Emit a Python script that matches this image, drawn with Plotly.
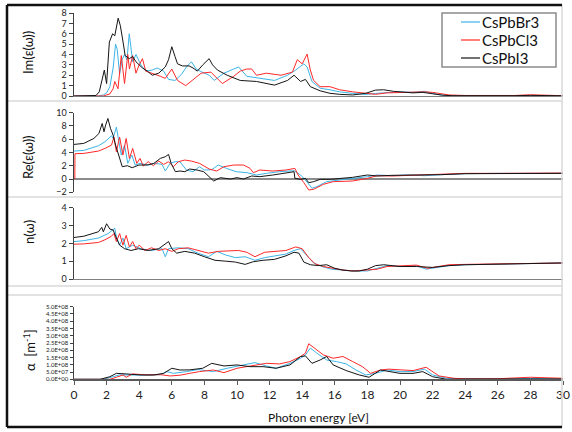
import plotly.graph_objects as go
from plotly.subplots import make_subplots

W, H = 572, 432

series_names = ["CsPbBr3", "CsPbCl3", "CsPbI3"]
series_colors = ["#3cb4e6", "#ff2828", "#141414"]

# ---------- Im(eps) ----------
im_i3_e = [0, 1.2, 1.35, 1.55, 1.7, 1.86, 2.0, 2.17, 2.37, 2.5, 2.71, 2.84, 2.98, 3.14, 3.39, 3.6, 3.8, 4.0, 4.2, 4.5, 4.8, 5.2, 5.6, 5.8, 6.0, 6.2, 6.35, 6.65, 7.06, 7.3, 7.57, 7.9, 8.29, 8.5, 8.8, 9.4, 10.2, 11.2, 12.3, 13.1, 13.5, 13.9, 14.2, 14.5, 15.1, 15.7, 16.3, 17.1, 17.9, 18.5, 19.0, 19.6, 20.2, 20.8, 21.4, 22.0, 22.6, 23.2, 24, 25, 26, 27, 28, 29, 30]
im_i3_v = [0, 0, 0.05, 0.4, 1.3, 2.5, 1.2, 5.2, 6.0, 5.8, 7.5, 6.8, 5.5, 3.9, 3.6, 3.8, 3.3, 3.0, 2.7, 2.4, 2.0, 2.2, 2.8, 3.5, 4.75, 3.8, 3.1, 2.9, 2.9, 2.7, 2.4, 3.0, 3.6, 3.0, 2.5, 2.0, 1.5, 1.4, 1.05, 1.5, 2.0, 1.4, 1.6, 0.9, 0.5, 0.26, 0.16, 0.1, 0.26, 0.57, 0.6, 0.45, 0.35, 0.3, 0.35, 0.2, 0.08, 0.03, 0.02, 0.02, 0.02, 0.03, 0.06, 0.03, 0.02]
im_br_e = [0, 1.5, 1.8, 2.0, 2.2, 2.4, 2.55, 2.65, 2.8, 2.95, 3.1, 3.25, 3.39, 3.6, 3.8, 4.1, 4.4, 4.8, 5.1, 5.5, 5.8, 6.2, 6.6, 6.9, 7.2, 7.5, 7.8, 8.3, 8.6, 9.2, 9.8, 10.1, 10.6, 11.4, 12.3, 13.1, 13.6, 14.1, 14.3, 14.6, 15.1, 15.7, 16.3, 17.1, 17.9, 18.5, 19.2, 20.0, 20.8, 21.5, 22.0, 22.6, 23.5, 25, 27, 28, 29, 30]
im_br_v = [0, 0, 0.1, 0.3, 0.9, 2.7, 5.0, 4.5, 2.1, 3.5, 4.0, 3.5, 6.0, 3.3, 4.0, 3.0, 2.4, 2.5, 2.7, 2.4, 1.6, 1.5, 2.1, 2.8, 3.3, 2.6, 2.35, 2.0, 1.5, 2.2, 2.6, 2.8, 1.9, 1.7, 1.5, 2.0, 2.5, 3.1, 2.8, 1.4, 0.75, 0.6, 0.4, 0.25, 0.15, 0.25, 0.35, 0.4, 0.35, 0.45, 0.25, 0.08, 0.02, 0.02, 0.02, 0.03, 0.02, 0.02]
im_cl_e = [0, 1.8, 2.2, 2.4, 2.5, 2.7, 2.9, 3.1, 3.3, 3.4, 3.6, 3.8, 4.0, 4.2, 4.4, 4.8, 5.3, 5.6, 6.0, 6.35, 6.85, 7.25, 7.8, 8.4, 9.1, 9.8, 10.2, 10.6, 10.9, 11.2, 11.8, 12.7, 13.4, 13.7, 14.0, 14.3, 14.5, 14.7, 15.1, 15.7, 16.3, 17.1, 17.9, 18.5, 19.2, 20.0, 20.8, 21.5, 22.0, 22.5, 23.0, 24, 25, 26, 27, 28, 29, 30]
im_cl_v = [0, 0, 0.2, 0.7, 1.4, 0.7, 3.9, 1.2, 4.0, 2.6, 3.9, 2.2, 3.0, 3.6, 2.4, 2.2, 1.9, 1.7, 2.6, 1.5, 1.0, 1.5, 2.2, 2.3, 1.2, 1.9, 2.4, 2.6, 2.6, 2.0, 2.2, 2.0, 2.3, 3.5, 3.1, 4.04, 2.5, 1.5, 0.9, 0.9, 0.6, 0.4, 0.25, 0.16, 0.3, 0.35, 0.4, 0.4, 0.35, 0.2, 0.1, 0.05, 0.03, 0.03, 0.05, 0.12, 0.05, 0.03]

# ---------- Re(eps) ----------
re_i3_e = [0, 0.6, 1.22, 1.53, 1.73, 1.84, 1.94, 2.08, 2.24, 2.4, 2.55, 2.76, 2.96, 3.27, 3.57, 3.98, 4.49, 4.9, 5.3, 5.6, 5.8, 5.96, 6.22, 6.5, 6.8, 7.1, 7.55, 7.96, 8.27, 8.57, 8.98, 9.6, 10.0, 10.4, 10.9, 11.4, 12.2, 13.0, 13.5, 13.55, 13.9, 14.2, 14.4, 14.7, 15.1, 15.7, 16.3, 17.1, 18.0, 18.6, 19.5, 20.5, 21.5, 22.5, 24, 26, 28, 30]
re_i3_v = [5.2, 5.35, 6.1, 6.85, 8.35, 7.1, 8.1, 9.1, 7.6, 6.6, 5.1, 3.6, 1.85, 2.0, 1.7, 2.1, 2.1, 2.35, 3.1, 3.35, 3.7, 2.35, 1.1, 1.2, 1.1, 1.5, 1.35, 1.1, 0.35, -0.3, 0.2, 0.0, 0.2, 0.0, 0.45, 0.35, 0.6, 0.85, 1.1, 0.1, -0.05, 0.1, -0.55, -0.4, -0.05, -0.05, 0.05, 0.25, 0.6, 0.45, 0.55, 0.6, 0.55, 0.65, 0.8, 0.85, 0.85, 0.85]
re_br_e = [0, 0.6, 1.5, 1.9, 2.3, 2.4, 2.6, 2.76, 2.9, 3.1, 3.3, 3.55, 3.75, 4.05, 4.55, 4.95, 5.4, 5.6, 5.9, 6.2, 6.5, 6.9, 7.3, 7.7, 8.0, 8.45, 8.85, 9.35, 9.95, 10.6, 11.2, 11.8, 12.6, 13.5, 13.9, 14.2, 14.6, 14.9, 15.5, 16.3, 17.1, 18.0, 18.6, 19.5, 20.5, 21.5, 22.5, 24, 26, 28, 30]
re_br_v = [4.2, 4.3, 5.0, 5.6, 6.5, 6.1, 7.8, 5.6, 3.6, 5.1, 2.35, 3.6, 2.1, 2.35, 2.1, 2.35, 2.2, 1.2, 2.35, 2.6, 2.6, 1.35, 1.1, 1.85, 1.35, 1.4, 2.1, 1.6, 1.1, 0.95, 0.6, 0.85, 1.1, 1.25, 0.6, -0.15, -1.4, -1.15, -0.4, -0.15, 0.05, 0.35, 0.6, 0.5, 0.6, 0.5, 0.65, 0.8, 0.85, 0.85, 0.85]
re_cl_e = [0.05, 0.06, 0.6, 1.5, 1.9, 2.3, 2.45, 2.6, 2.8, 3.0, 3.2, 3.4, 3.6, 3.85, 4.05, 4.25, 4.55, 4.87, 5.2, 5.5, 5.8, 6.1, 6.4, 6.8, 7.2, 7.7, 8.3, 8.75, 9.2, 9.8, 10.4, 10.8, 11.0, 11.4, 12.2, 13.0, 13.55, 13.75, 14.1, 14.4, 14.7, 15.3, 15.9, 16.5, 17.1, 18.0, 18.6, 19.5, 20.5, 21.5, 22.5, 24, 26, 28, 30]
re_cl_v = [0, 3.8, 3.85, 4.2, 4.6, 5.1, 6.3, 4.1, 6.3, 3.6, 6.1, 3.1, 4.6, 2.35, 3.1, 1.95, 2.6, 2.0, 2.7, 2.2, 2.6, 1.85, 2.6, 2.85, 2.7, 2.35, 1.5, 1.2, 1.85, 2.1, 2.1, 1.6, 0.95, 1.35, 1.2, 1.35, 1.6, 0.6, -0.55, -1.65, -1.55, -0.8, -0.4, -0.4, -0.3, 0.1, 0.5, 0.45, 0.55, 0.6, 0.7, 0.85, 0.85, 0.9, 0.9]

# ---------- n(omega) ----------
n_i3_e = [0, 0.6, 1.5, 1.7, 1.8, 2.0, 2.2, 2.4, 2.6, 2.8, 3.1, 3.5, 3.95, 4.55, 5.2, 5.6, 5.8, 6.0, 6.3, 6.8, 7.4, 8.0, 8.65, 9.3, 9.9, 10.5, 11.0, 11.6, 12.3, 13.0, 13.5, 13.8, 14.1, 14.5, 15.0, 15.5, 16.0, 16.5, 17.0, 17.5, 18.0, 18.5, 19.0, 20.0, 21.0, 22.0, 23.0, 24.0, 26, 28, 30]
n_i3_v = [2.33, 2.4, 2.65, 2.9, 2.65, 3.1, 2.8, 2.75, 2.3, 1.9, 1.7, 1.6, 1.7, 1.6, 1.7, 2.0, 2.1, 1.7, 1.45, 1.55, 1.45, 1.25, 1.05, 1.0, 0.95, 0.82, 0.97, 1.05, 1.1, 1.3, 1.5, 1.45, 0.95, 0.8, 0.75, 0.8, 0.6, 0.5, 0.45, 0.45, 0.55, 0.75, 0.8, 0.7, 0.7, 0.65, 0.75, 0.8, 0.82, 0.85, 0.9]
n_br_e = [0, 0.6, 1.5, 2.1, 2.5, 2.6, 2.8, 3.0, 3.2, 3.6, 4.1, 4.7, 5.4, 5.6, 5.8, 6.4, 7.0, 7.6, 8.25, 8.75, 9.3, 9.9, 10.5, 11.1, 11.7, 12.4, 13.0, 13.5, 13.9, 14.3, 14.7, 15.2, 15.8, 16.5, 17.2, 18.0, 18.6, 19.2, 20.0, 21.0, 21.6, 22.2, 23.0, 24.0, 26, 28, 30]
n_br_v = [2.1, 2.15, 2.3, 2.55, 2.85, 2.35, 1.9, 2.3, 1.7, 1.9, 1.7, 1.6, 1.7, 1.25, 1.7, 1.75, 1.7, 1.45, 1.25, 1.55, 1.35, 1.2, 1.25, 1.05, 1.2, 1.3, 1.4, 1.6, 1.7, 1.3, 0.9, 0.7, 0.55, 0.5, 0.45, 0.45, 0.6, 0.75, 0.7, 0.75, 0.55, 0.65, 0.75, 0.8, 0.82, 0.85, 0.9]
n_cl_e = [0, 0.6, 1.5, 1.9, 2.3, 2.45, 2.6, 2.8, 3.0, 3.2, 3.4, 3.6, 3.8, 4.0, 4.35, 4.75, 5.2, 5.6, 6.0, 6.4, 7.0, 7.6, 8.25, 8.85, 9.5, 10.1, 10.6, 11.1, 11.7, 12.4, 13.0, 13.6, 14.0, 14.4, 14.8, 15.3, 15.9, 16.5, 17.2, 18.0, 18.6, 19.2, 20.0, 21.0, 21.7, 22.3, 23.0, 24.0, 26, 28, 30]
n_cl_v = [1.95, 1.97, 2.05, 2.2, 2.4, 2.55, 2.1, 2.55, 1.9, 2.45, 1.8, 2.1, 1.7, 1.9, 1.6, 1.75, 1.6, 1.7, 1.55, 1.7, 1.75, 1.6, 1.45, 1.55, 1.57, 1.6, 1.5, 1.25, 1.5, 1.55, 1.6, 1.8, 1.7, 1.2, 0.85, 0.7, 0.6, 0.5, 0.45, 0.5, 0.55, 0.7, 0.75, 0.78, 0.6, 0.7, 0.8, 0.82, 0.85, 0.88, 0.9]

# ---------- alpha (units of 1e8 m^-1) ----------
a_i3_e = [0, 1.6, 2.2, 2.6, 3.2, 4.05, 4.9, 5.5, 6.0, 6.5, 7.1, 7.9, 8.45, 9.2, 10.0, 10.8, 11.6, 12.4, 13.25, 13.9, 14.2, 14.6, 15.1, 15.5, 15.9, 16.7, 17.5, 18.1, 18.8, 19.4, 20.0, 20.8, 21.4, 22.0, 22.85, 24, 26, 28, 30]
a_i3_v = [0, 0, 0.18, 0.41, 0.37, 0.3, 0.3, 0.41, 0.76, 0.64, 0.65, 0.76, 1.1, 0.92, 0.99, 0.87, 0.87, 0.76, 0.99, 1.57, 1.61, 1.1, 1.33, 1.57, 0.99, 0.6, 0.3, 0.14, 0.64, 0.53, 0.41, 0.41, 0.53, 0.18, 0.0, 0.02, 0.02, 0.05, 0.02]
a_br_e = [0, 1.8, 2.4, 2.8, 3.4, 4.5, 5.3, 5.7, 6.1, 6.5, 6.9, 7.6, 8.55, 9.4, 10.2, 11.1, 11.8, 12.4, 13.25, 13.9, 14.2, 14.5, 14.9, 15.5, 16.1, 16.7, 17.3, 17.9, 18.5, 19.2, 20.0, 20.8, 21.5, 22.0, 22.85, 24, 26, 28, 30]
a_br_v = [0, 0, 0.18, 0.3, 0.3, 0.28, 0.32, 0.53, 0.41, 0.46, 0.53, 0.67, 0.53, 0.76, 0.92, 1.15, 0.92, 0.76, 1.1, 1.45, 1.68, 2.15, 1.8, 1.33, 1.22, 1.06, 0.64, 0.3, 0.41, 0.64, 0.53, 0.53, 0.7, 0.3, 0.07, 0.03, 0.03, 0.06, 0.03]
a_cl_e = [0, 2.2, 2.6, 3.0, 3.2, 3.6, 4.5, 5.3, 5.9, 6.5, 7.1, 7.7, 8.55, 9.2, 10.0, 11.0, 11.8, 12.6, 13.25, 13.9, 14.2, 14.4, 14.7, 15.3, 15.9, 16.5, 17.1, 17.7, 18.2, 18.8, 19.3, 20.0, 20.8, 21.6, 22.0, 22.4, 23.3, 24, 26, 28, 30]
a_cl_v = [0, 0, 0.14, 0.3, 0.14, 0.37, 0.3, 0.32, 0.23, 0.28, 0.41, 0.53, 0.64, 0.46, 0.76, 0.92, 1.1, 1.06, 1.22, 1.57, 1.8, 2.45, 2.2, 1.68, 1.45, 1.57, 1.22, 0.87, 0.41, 0.64, 0.7, 0.64, 0.6, 0.83, 0.53, 0.23, 0.07, 0.03, 0.04, 0.14, 0.07]
alpha_unit = 1e8

alpha_ticks = [i * 0.5e8 for i in range(11)]
alpha_ticktext = [f"{v:.1E}" for v in alpha_ticks]
x_ticks = list(range(0, 31, 2))

panels = [
    [(im_br_e, im_br_v), (im_cl_e, im_cl_v), (im_i3_e, im_i3_v)],
    [(re_br_e, re_br_v), (re_cl_e, re_cl_v), (re_i3_e, re_i3_v)],
    [(n_br_e, n_br_v), (n_cl_e, n_cl_v), (n_i3_e, n_i3_v)],
    [(a_br_e, a_br_v), (a_cl_e, a_cl_v), (a_i3_e, a_i3_v)],
]

fig = make_subplots(rows=4, cols=1)

for r, panel in enumerate(panels, start=1):
    for k, (xs, ys) in enumerate(panel):
        if r == 4:
            ys = [v * alpha_unit for v in ys]
        fig.add_trace(go.Scatter(
            x=xs, y=ys, mode="lines", name=series_names[k],
            line=dict(color=series_colors[k], width=1),
            showlegend=False),
            row=r, col=1)

def px_x(p):
    return p / W

def px_y(p):
    return 1 - p / H

FONT = "Lato, Carlito, 'Open Sans', sans-serif"
axis_col = "#404040"
xdom = [px_x(74), px_x(563)]

ydoms = [
    [px_y(96), px_y(13)],
    [px_y(192.3), px_y(112.5)],
    [px_y(279), px_y(207.7)],
    [px_y(379.3), px_y(306.7)],
]
yranges = [[0, 8], [-2, 10], [0, 4], [0, 5e8]]
ydticks = [1, 2, 1, None]

for i in range(4):
    xa = "xaxis" if i == 0 else f"xaxis{i+1}"
    ya = "yaxis" if i == 0 else f"yaxis{i+1}"
    xcfg = dict(domain=xdom, range=[0, 30], showgrid=False, zeroline=False,
                automargin=False, fixedrange=True)
    if i == 3:
        xcfg.update(showline=True, linecolor="#595959", linewidth=1.2,
                    ticks="outside", ticklen=4, tickcolor="#595959",
                    tickvals=x_ticks, showticklabels=True,
                    tickfont=dict(family=FONT, size=12, color="#222"))
    elif i == 1:
        xcfg.update(showline=False, ticks="", showticklabels=False)
    else:
        xcfg.update(showline=True, linecolor="#7f7f7f", linewidth=1.2,
                    ticks="", showticklabels=False)
    ycfg = dict(domain=ydoms[i], range=yranges[i], showgrid=False,
                showline=True, linecolor=axis_col, linewidth=1.5,
                ticks="outside", ticklen=4, tickcolor=axis_col,
                automargin=False, fixedrange=True, zeroline=False,
                tickfont=dict(family=FONT, size=9, color="#222"))
    if ydticks[i] is not None:
        ycfg.update(dtick=ydticks[i], tick0=0)
    if i == 1:
        ycfg.update(zeroline=True, zerolinecolor="#8c8c8c", zerolinewidth=1.5)
    if i == 3:
        ycfg.update(tickvals=alpha_ticks, ticktext=alpha_ticktext, ticklen=3,
                    tickfont=dict(family=FONT, size=6, color="#222"))
    fig.layout[xa].update(xcfg)
    fig.layout[ya].update(ycfg)

shapes = []
sep_col = "#d9d9d9"
for yy in [101, 197, 286, 295]:
    shapes.append(dict(type="line", xref="paper", yref="paper",
                       x0=px_x(7), x1=px_x(562), y0=px_y(yy), y1=px_y(yy),
                       line=dict(color=sep_col, width=1.5)))
shapes.append(dict(type="line", xref="paper", yref="paper",
                   x0=px_x(562), x1=px_x(562), y0=px_y(5), y1=px_y(427),
                   line=dict(color=sep_col, width=1.5)))
for (x0, y0, x1, y1) in [(7, 5, 562, 5), (7, 427, 562, 427), (7, 5, 7, 427)]:
    shapes.append(dict(type="line", xref="paper", yref="paper",
                       x0=px_x(x0), x1=px_x(x1), y0=px_y(y0), y1=px_y(y1),
                       line=dict(color="#111", width=2.5)))

annotations = []
titles = [("Im(ε(ω))", 28, 53), ("Re(ε(ω))", 28, 157), ("n(ω)", 29, 232),
          ("α  [m<sup>-1</sup>]", 29, 350)]
for txt, xx, yy in titles:
    annotations.append(dict(text=txt, xref="paper", yref="paper",
                            x=px_x(xx), y=px_y(yy), showarrow=False,
                            textangle=-90, xanchor="center", yanchor="middle",
                            font=dict(family=FONT, size=13, color="#111")))
annotations.append(dict(text="Photon energy [eV]", xref="paper", yref="paper",
                        x=px_x(318), y=px_y(417), showarrow=False,
                        xanchor="center", yanchor="middle",
                        font=dict(family=FONT, size=12, color="#111")))

# legend box (drawn as shapes + text)
shapes.append(dict(type="rect", xref="paper", yref="paper",
                   x0=px_x(442), x1=px_x(556), y0=px_y(67), y1=px_y(13),
                   line=dict(color="#8c8c8c", width=1.5), fillcolor="white",
                   layer="above"))
for k, name in enumerate(series_names):
    yy = 22 + 18 * k
    shapes.append(dict(type="line", xref="paper", yref="paper",
                       x0=px_x(461), x1=px_x(480), y0=px_y(yy), y1=px_y(yy),
                       line=dict(color=series_colors[k], width=1.2),
                       layer="above"))
    annotations.append(dict(text=name, xref="paper", yref="paper",
                            x=px_x(480), y=px_y(yy), showarrow=False,
                            xanchor="left", yanchor="middle",
                            font=dict(family=FONT, size=15, color="#111")))

fig.update_layout(
    width=W, height=H,
    margin=dict(l=0, r=0, t=0, b=0, autoexpand=False),
    paper_bgcolor="white", plot_bgcolor="white",
    shapes=shapes, annotations=annotations,
    showlegend=False,
)

fig.write_html("out.html",
               config={"displayModeBar": False, "staticPlot": True},
               post_script="document.body.style.margin='0';"
                           "document.body.style.padding='0';"
                           "document.body.style.overflow='hidden';")
